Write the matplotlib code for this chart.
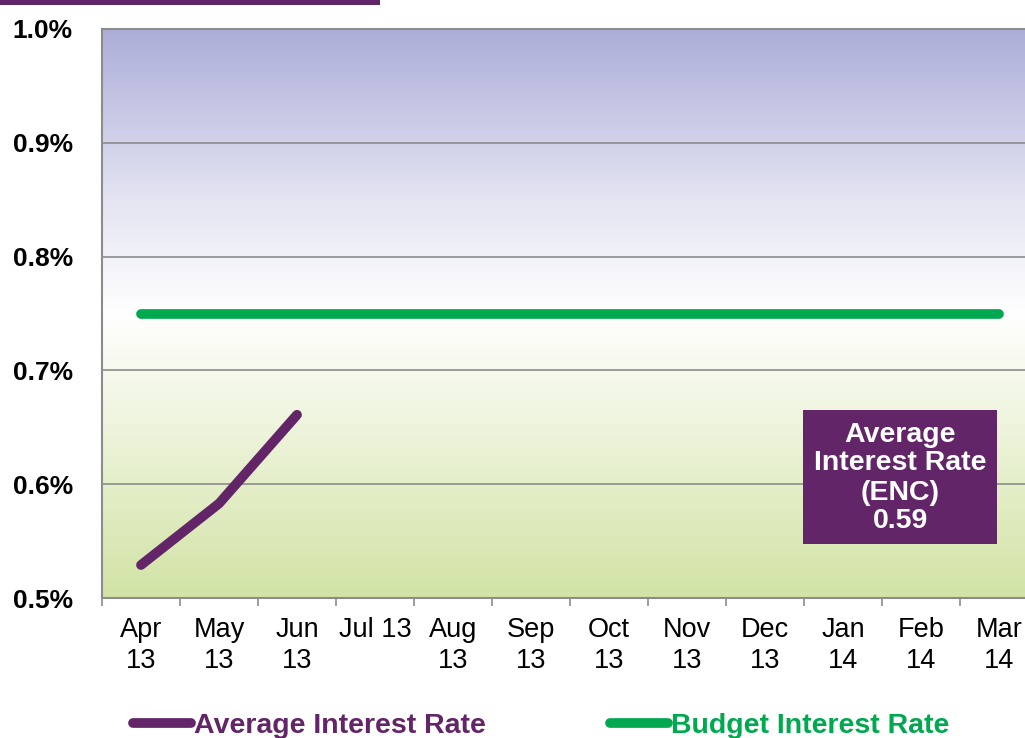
import numpy as np
import matplotlib
matplotlib.use('Agg')
import matplotlib.pyplot as plt
from matplotlib.colors import LinearSegmentedColormap
from matplotlib.patches import Rectangle

plt.rcParams['font.family'] = ['Liberation Sans', 'DejaVu Sans']

# data
months = ['Apr\n13', 'May\n13', 'Jun\n13', 'Jul 13', 'Aug\n13', 'Sep\n13',
          'Oct\n13', 'Nov\n13', 'Dec\n13', 'Jan\n14', 'Feb\n14', 'Mar\n14']
avg_rate = [0.529, 0.583, 0.661]
budget_rate = [0.75] * 12
box_text = 'Average\nInterest Rate\n(ENC)\n0.59'

purple = '#622567'
green = '#00a84f'

fig = plt.figure(figsize=(10.25, 7.38), dpi=100)
ax = fig.add_axes([102 / 1025, 1 - 598 / 738, 936 / 1025, 569 / 738])

# background gradient
cmap = LinearSegmentedColormap.from_list(
    'bg', [(0, '#d1e3a5'), (0.3, '#eef4dc'), (0.5, '#ffffff'), (0.7, '#e4e4f2'), (1, '#acaed8')])
grad = np.linspace(0, 1, 256).reshape(-1, 1)
ax.imshow(grad, cmap=cmap, aspect='auto', origin='lower',
          extent=[0, 1, 0, 1], transform=ax.transAxes, zorder=0)

x = np.arange(len(months))
ax.plot(x[:len(avg_rate)], avg_rate, color=purple, lw=7,
        solid_capstyle='round', solid_joinstyle='round', label='Average Interest Rate', zorder=3)
ax.plot(x, budget_rate, color=green, lw=7,
        solid_capstyle='round', label='Budget Interest Rate', zorder=3)

ax.set_xlim(-0.5, 11.5)
ax.set_ylim(0.5, 1.0)
ax.set_yticks([0.5, 0.6, 0.7, 0.8, 0.9, 1.0])
ax.set_yticklabels(['0.5%', '0.6%', '0.7%', '0.8%', '0.9%', '1.0%'],
                   fontsize=19, fontweight='bold')
ax.tick_params(axis='y', length=0, pad=21)
ax.yaxis.grid(True, color='#8c8c8c', lw=1.2)
ax.set_axisbelow(False)
for gl in ax.yaxis.get_gridlines():
    gl.set_zorder(1)

ax.set_xticks(x)
ax.set_xticklabels(months, fontsize=19.5, linespacing=1.25)
ax.tick_params(axis='x', length=0, pad=14)
ax.set_xticks(np.arange(-0.5, 12, 1), minor=True)
ax.tick_params(axis='x', which='minor', length=6, color='#8c8c8c', width=1.2)

for s in ['left', 'bottom', 'top']:
    ax.spines[s].set_color('#8c8c8c')
    ax.spines[s].set_linewidth(1.5)
ax.spines['right'].set_visible(False)

# annotation box
ax.add_patch(Rectangle((701 / 936, 54 / 569), 194 / 936, 134 / 569,
                       transform=ax.transAxes, facecolor=purple, edgecolor='none', zorder=4))
ax.text(798 / 936, 120 / 569, box_text, transform=ax.transAxes, ha='center', va='center',
        color='white', fontsize=20.5, fontweight='bold', linespacing=1.15, zorder=5)

# header bar remnant
fig.add_artist(Rectangle((0, 1 - 5 / 738), 380 / 1025, 5 / 738,
                         transform=fig.transFigure, facecolor=purple, edgecolor='none'))

leg = fig.legend(loc='center left', bbox_to_anchor=(107 / 1025, 1 - 726 / 738), ncol=2,
                 frameon=False, handlelength=2.05, handletextpad=0.1, columnspacing=4.35,
                 prop={'size': 20.5, 'weight': 'bold'})
for t, c in zip(leg.get_texts(), [purple, green]):
    t.set_color(c)

fig.savefig('out.png', dpi=100)
